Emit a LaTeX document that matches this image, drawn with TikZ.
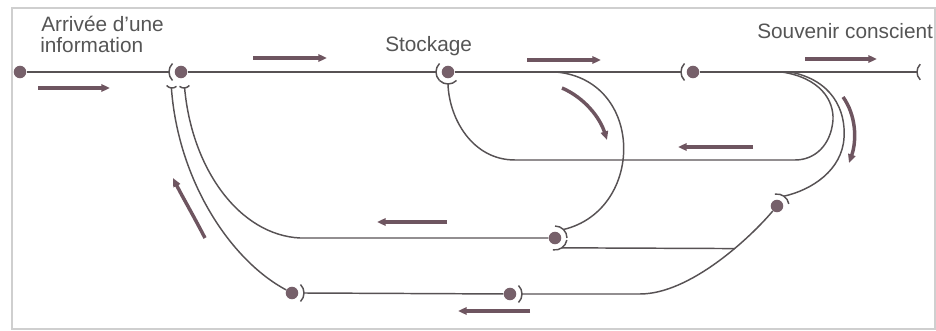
\documentclass[tikz,border=0pt]{standalone}
\usepackage{fontspec}
\setmainfont{Liberation Sans}
\usetikzlibrary{arrows.meta,calc}
\definecolor{linec}{HTML}{575254}
\definecolor{arrc}{HTML}{6E5560}
\definecolor{dotc}{HTML}{76606A}
\definecolor{txtc}{HTML}{555555}
\definecolor{framec}{HTML}{CFCFCF}
\newcommand\synapse[4][11]{%
  \draw[nerve] ($(#2)+(#3-45:#1)$) arc[start angle=#3-45, end angle=#3+45, radius=#1];
  \coordinate (#4) at ($(#2)+(#3:#1)$);}
\begin{document}
\begin{tikzpicture}[x=0.75pt, y=-0.75pt,
  nerve/.style={draw=linec, line width=1.1pt},
  flow/.style={draw=arrc, line width=2.6pt, -{Triangle[length=6.5pt,width=5.5pt]}},
  dot/.style={circle, fill=dotc, minimum size=9.4pt, inner sep=0pt},
  lbl/.style={font=\fontsize{15.6}{18}\selectfont, text=txtc, inner sep=0pt, anchor=base west}]
\useasboundingbox (0,0) rectangle (936,331);
\draw[framec, line width=0.9pt] (12,8) rectangle (935,329);

% labels
\node[lbl] (t1) at (41,32) {Arrivée d’une};
\node[lbl] (t2) at (40,53) {information};
\node[lbl] (t3) at (385,52) {Stockage};
\node[lbl] (t4) at (757,39) {Souvenir conscient};

% dots
\node[dot] (d0) at (20,72) {};
\node[dot] (d1) at (181,72) {};
\node[dot] (d2) at (448,72) {};
\node[dot] (d3) at (693,72) {};
\node[dot] (d4) at (555,238) {};
\node[dot] (d5) at (777,206) {};
\node[dot] (d6) at (510,294) {};
\node[dot] (d7) at (292,293) {};
\coordinate (endc) at (928,72);
\coordinate (b1l) at (172,81);
\coordinate (b1r) at (184,81);

% synapse cups
\synapse[12]{d1}{180}{s1}
\synapse[12]{d2}{180}{s2}
\synapse[12]{d2}{90}{s2b}
\synapse[12]{d3}{180}{s3}
\synapse{endc}{180}{se}
\synapse[7]{b1l}{95}{s1l}
\synapse[7]{b1r}{85}{s1r}
\synapse[12]{d4}{315}{s4u}
\synapse[12]{d4}{55}{s4d}
\synapse[12]{d5}{305}{s5}
\synapse[12]{d6}{0}{s6}
\synapse[12]{d7}{0}{s7}

% main line
\draw[nerve] (d0) -- (s1);
\draw[nerve] (d1) -- (s2);
\draw[nerve] (d2) -- (s3);
\draw[nerve] (d3) -- (se);

% branch points
\coordinate (br1) at (556,72);
\coordinate (br2) at (782,72);
\coordinate (br3) at (790,72);
\coordinate (k1) at (300,238);

% curves
\draw[nerve] (br1) .. controls (645,80) and (645,210) .. (s4u);
\draw[nerve] (br2) .. controls (820,78) and (834,100) .. (833,120)
  .. controls (831,145) and (815,160) .. (795,160) -- (515,160)
  .. controls (472,160) and (449,118) .. (s2b);
\draw[nerve] (br3) .. controls (832,80) and (846,110) .. (844,138)
  .. controls (842,170) and (812,190) .. (s5);
\draw[nerve] (d5) .. controls (750,238) and (690,294) .. (640,294) coordinate[pos=0.37] (jn) -- (s6);
\draw[nerve] (jn) -- (s4d);
\draw[nerve] (d6) -- (s7);
\draw[nerve] (d4) -- (k1) .. controls (240,235) and (192,170) .. (s1r);
\draw[nerve] (d7) .. controls (230,260) and (178,180) .. (s1l);

% flow arrows
\draw[flow] (38,88) -- (110,88);
\draw[flow] (253,58) -- (327,58);
\draw[flow] (527,60) -- (601,60);
\draw[flow] (805,59) -- (877,59);
\draw[flow] (562,88) .. controls (585,98) and (600,118) .. (607,140);
\draw[flow] (843,97) .. controls (856,115) and (857,140) .. (849,163);
\draw[flow] (753,147) -- (678,147);
\draw[flow] (447,222) -- (377,222);
\draw[flow] (530,311) -- (458,311);
\draw[flow] (205,238) .. controls (192,213) and (182,196) .. (173,178);
\end{tikzpicture}
\end{document}
